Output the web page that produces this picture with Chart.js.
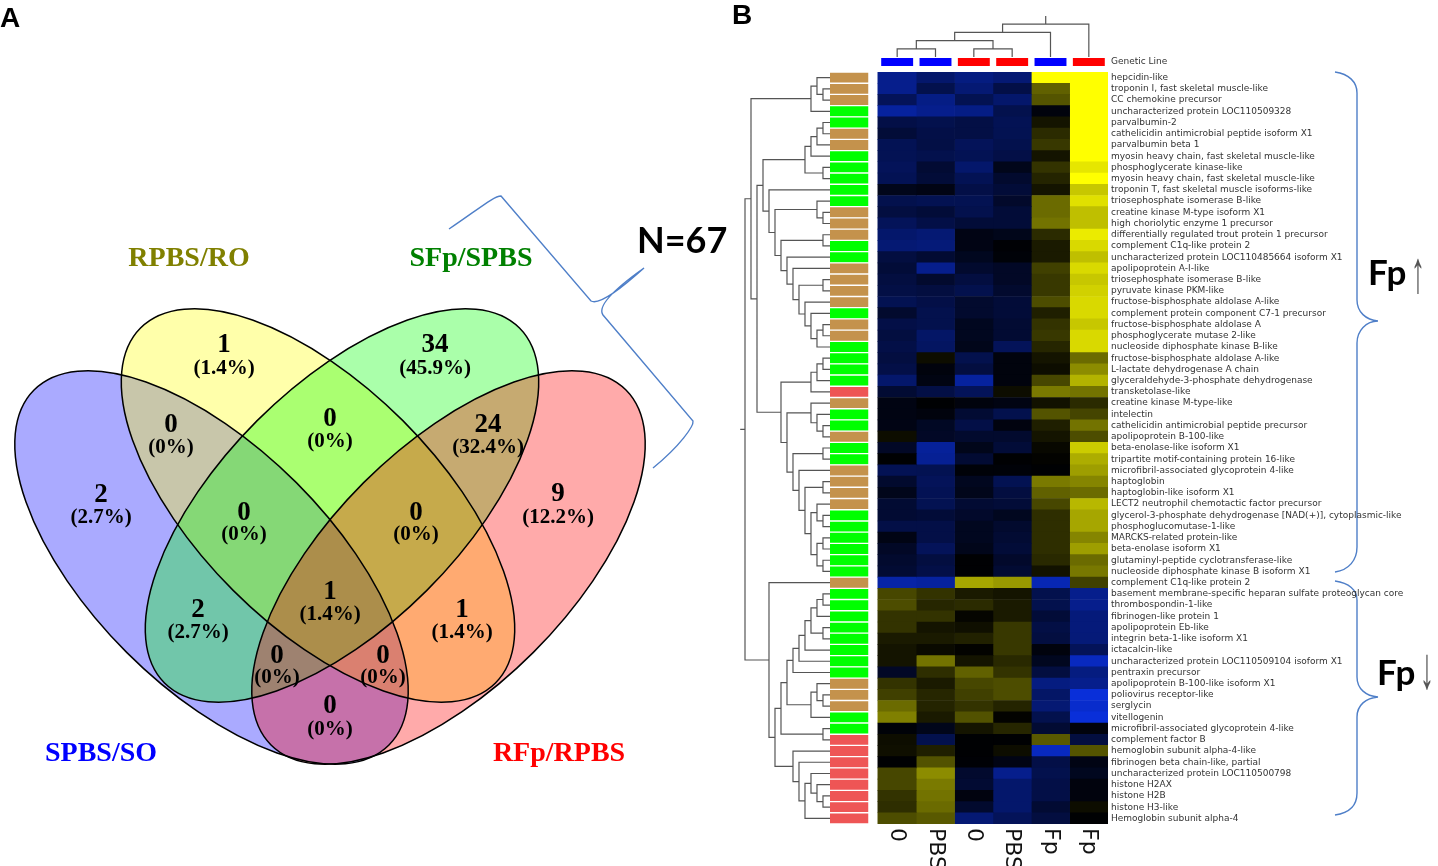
<!DOCTYPE html>
<html>
<head>
<meta charset="utf-8">
<style>
    body { margin: 0; background: #fff; overflow: hidden; }
    canvas { position: absolute; }
    #page { left: 0; top: 0; }
    #rowTree { left: 739px; top: 72px; }
    #colTree { left: 878px; top: 10px; }
    #lines { left: 878px; top: 54px; }
    #heat { left: 830px; top: 72px; }
</style>
<script src="https://cdn.jsdelivr.net/npm/chart.js@4/dist/chart.umd.js"></script>
</head>
<body>
<canvas id="page" width="1438" height="866"></canvas>
<canvas id="rowTree" width="91" height="752"></canvas>
<canvas id="colTree" width="230" height="47"></canvas>
<canvas id="lines" width="525" height="16"></canvas>
<canvas id="heat" width="573" height="794"></canvas>
<script>
// Panel A data
const vennSets = ['SPBS/SO', 'RPBS/RO', 'SFp/SPBS', 'RFp/RPBS'];
const vennRegions = ['b', 'y', 'g', 'r', 'by', 'yg', 'gr', 'byg', 'ygr', 'bygr', 'bg', 'yr', 'bgr', 'byr', 'br'];
const vennCounts = [2, 1, 34, 9, 0, 0, 24, 0, 0, 1, 2, 1, 0, 0, 0];
const vennPercents = ['2.7', '1.4', '45.9', '12.2', '0', '0', '32.4', '0', '0', '1.4', '2.7', '1.4', '0', '0', '0'];

// Panel B data
const columnLabels = ['0', 'PBS', '0', 'PBS', 'Fp', 'Fp'];
const geneticLine = ['S', 'S', 'R', 'R', 'S', 'R'];
const genes = [
    'hepcidin-like', 'troponin I, fast skeletal muscle-like', 'CC chemokine precursor',
    'uncharacterized protein LOC110509328', 'parvalbumin-2', 'cathelicidin antimicrobial peptide isoform X1',
    'parvalbumin beta 1', 'myosin heavy chain, fast skeletal muscle-like', 'phosphoglycerate kinase-like',
    'myosin heavy chain, fast skeletal muscle-like', 'troponin T, fast skeletal muscle isoforms-like',
    'triosephosphate isomerase B-like', 'creatine kinase M-type isoform X1', 'high choriolytic enzyme 1 precursor',
    'differentially regulated trout protein 1 precursor', 'complement C1q-like protein 2',
    'uncharacterized protein LOC110485664 isoform X1', 'apolipoprotein A-I-like', 'triosephosphate isomerase B-like',
    'pyruvate kinase PKM-like', 'fructose-bisphosphate aldolase A-like', 'complement protein component C7-1 precursor',
    'fructose-bisphosphate aldolase A', 'phosphoglycerate mutase 2-like', 'nucleoside diphosphate kinase B-like',
    'fructose-bisphosphate aldolase A-like', 'L-lactate dehydrogenase A chain', 'glyceraldehyde-3-phosphate dehydrogenase',
    'transketolase-like', 'creatine kinase M-type-like', 'intelectin', 'cathelicidin antimicrobial peptide precursor',
    'apolipoprotein B-100-like', 'beta-enolase-like isoform X1', 'tripartite motif-containing protein 16-like',
    'microfibril-associated glycoprotein 4-like', 'haptoglobin', 'haptoglobin-like isoform X1',
    'LECT2 neutrophil chemotactic factor precursor', 'glycerol-3-phosphate dehydrogenase [NAD(+)], cytoplasmic-like',
    'phosphoglucomutase-1-like', 'MARCKS-related protein-like', 'beta-enolase isoform X1',
    'glutaminyl-peptide cyclotransferase-like', 'nucleoside diphosphate kinase B isoform X1', 'complement C1q-like protein 2',
    'basement membrane-specific heparan sulfate proteoglycan core protein', 'thrombospondin-1-like', 'fibrinogen-like protein 1',
    'apolipoprotein Eb-like', 'integrin beta-1-like isoform X1', 'ictacalcin-like',
    'uncharacterized protein LOC110509104 isoform X1', 'pentraxin precursor', 'apolipoprotein B-100-like isoform X1',
    'poliovirus receptor-like', 'serglycin', 'vitellogenin', 'microfibril-associated glycoprotein 4-like',
    'complement factor B', 'hemoglobin subunit alpha-4-like', 'fibrinogen beta chain-like, partial',
    'uncharacterized protein LOC110500798', 'histone H2AX', 'histone H2B', 'histone H3-like', 'Hemoglobin subunit alpha-4'
];
const geneGroups = 'BBBGGBBGGGGGBB' + 'BGGBBBBGBBGGGGRBGGBG' + 'GBBBBGGGGGGBGGGGGGG' + 'GBBBGGRRRRRRRR';
const heatValues = [
    [-.55, -.42, -.5, -.45, 1, 1], [-.55, -.3, -.45, -.28, .38, 1], [-.35, -.52, -.32, -.42, .33, 1],
    [-.62, -.55, -.52, -.3, -.05, 1], [-.28, -.3, -.27, -.33, .08, 1], [-.22, -.28, -.27, -.32, .17, 1],
    [-.33, -.27, -.35, -.3, .22, 1], [-.33, -.3, -.33, -.28, .08, 1], [-.35, -.2, -.42, -.1, .2, .9],
    [-.33, -.22, -.33, -.18, .14, 1], [-.1, -.08, -.28, -.22, .08, .78], [-.3, -.32, -.32, -.17, .42, .88],
    [-.25, -.22, -.3, -.22, .42, .75], [-.35, -.28, -.22, -.22, .45, .75], [-.42, -.45, -.08, -.1, .17, .92],
    [-.45, -.47, -.08, -.02, .1, .85], [-.25, -.2, -.12, -.03, .1, .75], [-.22, -.55, -.18, -.15, .25, .85],
    [-.25, -.18, -.25, -.15, .22, .78], [-.27, -.25, -.3, -.18, .22, .82], [-.32, -.28, -.18, -.22, .3, .85],
    [-.18, -.3, -.18, -.22, .12, .85], [-.28, -.3, -.12, -.2, .2, .78], [-.25, -.4, -.12, -.2, .22, .85],
    [-.28, -.38, -.1, -.35, .15, .85], [-.25, .05, -.3, -.05, .08, .42], [-.28, -.05, -.25, -.05, .05, .55],
    [-.42, -.07, -.62, -.05, .28, .7], [-.2, -.27, -.35, .05, .48, .45], [-.07, -.01, -.05, -.07, .07, .17],
    [-.07, -.05, -.2, -.3, .33, .27], [-.08, -.14, -.28, -.06, .12, .45], [.05, -.15, -.18, -.18, .08, .3],
    [-.15, -.6, -.1, -.22, .03, .8], [-.01, -.58, -.2, -.01, .01, .68], [-.33, -.32, -.03, -.03, -.01, .62],
    [-.18, -.35, -.12, -.32, .48, .52], [-.1, -.33, -.1, -.25, .38, .42], [-.2, -.32, -.2, -.22, .28, .72],
    [-.2, -.22, -.17, -.12, .18, .65], [-.28, -.28, -.12, -.18, .18, .65], [-.08, -.28, -.12, -.2, .18, .52],
    [-.15, -.35, -.1, -.22, .18, .62], [-.18, -.25, -.01, -.17, .16, .42], [-.2, -.28, -.01, -.2, .07, .47],
    [-.65, -.62, .65, .6, -.7, .25], [.28, .2, .1, .08, -.3, -.55], [.3, .15, .17, .1, -.3, -.55],
    [.2, .2, .02, .1, -.22, -.48], [.2, .08, .06, .22, -.27, -.48], [.1, .1, .13, .22, -.25, -.47],
    [.08, .04, .01, .22, -.05, -.35], [.08, .45, .08, .16, -.12, -.75], [-.15, .18, .38, .2, -.25, -.5],
    [.2, .1, .28, .3, -.5, -.55], [.25, .15, .25, .3, -.4, -.85], [.42, .14, .2, .14, -.45, -.8],
    [.5, .1, .32, .01, -.3, -.85], [-.03, -.1, .08, .15, -.2, -.05], [.05, -.3, -.01, -.01, .35, -.25],
    [.06, .12, -.01, .05, -.75, .33], [-.01, .32, -.02, -.08, -.28, -.08], [.28, .55, -.18, -.55, -.3, -.12],
    [.28, .48, -.2, -.42, -.28, -.05], [.2, .45, -.06, -.42, -.28, -.05], [.18, .42, -.18, -.42, -.2, .05],
    [.3, .35, -.45, -.35, -.25, -.01]
];

// Dendrograms: [merge level, left, right], leaves are row or column numbers
const rowTreeData = [14,
    [13,
        [3, [2, 1, [1, 2, 3]], 4],
        [12,
            [11,
                [4, [3, [2, [1, 5, 6], 7], 8], [1, 9, 10]],
                [10, 11,
                    [9,
                        [2, 12, [1, 13, 14]],
                        [8, [1, 15, 16],
                            [7, 17,
                                [6, 18,
                                    [5, [1, 19, 20],
                                        [4, 21,
                                            [3, 22, [2, [1, 23, 24], 25]]]]]]]]]],
            [8,
                [3, [2, [1, 26, 27], 28], 29],
                [7,
                    [3, 30, [2, 31, [1, 32, 33]]],
                    [6, [1, 34, 35],
                        [5, 36,
                            [4, [1, 37, 38],
                                [3, [2, 39, [1, 40, 41]], [2, [1, 42, 43], [1, 44, 45]]]]]]]]]],
    [10, 46,
        [9,
            [8,
                [7,
                    [6, [5, [4, [3, [2, [1, 47, 48], 49], [1, 50, 51]], 52], 53], 54],
                    [3, [2, 55, [1, 56, 57]], 58]],
                [1, 59, 60]],
            [6, 61, [5, 62, [4, [3, 63, [2, 64, [1, 65, 66]]], 67]]]]]
];
const colTreeData = [4, [3, [2, [1, 0, 1], [1, 2, 3]], 4], 5];

// Layout of panel A, page pixels
const ellipses = {
    b: { x: 211.5, y: 567.5, rx: 251, ry: 120, rot: 45 },
    y: { x: 318, y: 505.5, rx: 251, ry: 120, rot: 45 },
    g: { x: 342, y: 505.5, rx: 251, ry: 120, rot: -45 },
    r: { x: 448.5, y: 567.5, rx: 251, ry: 120, rot: -45 }
};
const regionColors = {
    b: '#aaaaff', y: '#ffffaa', g: '#aaffaa', r: '#ffaaaa', by: '#c8c6aa', yg: '#aaff71', gr: '#c6aa71',
    byg: '#85d876', ygr: '#c6aa4b', bygr: '#ac8e4b', bg: '#71c6aa', yr: '#ffaa71', bgr: '#9e8270', byr: '#da8070', br: '#c671aa'
};
const labelSpots = [
    [101, 495, 518], [224, 345, 369], [435, 345, 369], [558, 494, 518], [171, 425, 448], [330, 419, 442], [488, 425, 448],
    [244, 513, 535], [416, 513, 535], [330, 592, 615], [198, 610, 633], [462, 610, 633], [277, 656, 678], [383, 656, 678], [330, 706, 730]
];
const setTitles = [[101, 754, '#0000ff'], [189, 259, '#808000'], [471, 259, '#008000'], [559, 754, '#ff0000']];
const braces = [
    [[449, 229], [480, 208, 494, 196, 501, 196], [591, 301], [600, 306, 625, 285, 644, 268], [620, 285, 596, 305, 603, 315], [693, 421], [694, 426, 680, 446, 653, 468]],
    [[1335, 72], [1349, 74, 1357, 82, 1357, 93], [1357, 300], [1357, 312, 1366, 320, 1378, 321], [1366, 321, 1357, 331, 1357, 343], [1357, 547], [1357, 560, 1349, 570, 1335, 572]],
    [[1335, 581], [1349, 583, 1357, 590, 1357, 600], [1357, 677], [1357, 689, 1366, 696, 1378, 697], [1366, 698, 1357, 705, 1357, 717], [1357, 793], [1357, 806, 1349, 813, 1335, 815]]
];

const groupColors = { B: '#c4924c', G: '#00ff00', R: '#ee5555' };
const lineColors = { S: '#0000ff', R: '#ff0000' };

function heatColor(v) {
    const a = Math.abs(v);
    if (v >= 0) return `rgb(${Math.round(255 * a)},${Math.round(255 * a)},0)`;
    return `rgb(${Math.round(10 * a)},${Math.round(55 * a)},${Math.round(255 * a)})`;
}

// Tick labels would otherwise push the chart area in by half a line
function fitRightAxis(axis) {
    axis.width = 295;
    axis.paddingTop = 0;
    axis.paddingBottom = 0;
}

// Page chart: venn diagram and the annotations around it
const pagePlugin = {
    id: 'pagePlugin',
    afterDraw(chart) {
        const ctx = chart.ctx;
        const px = v => chart.scales.x.getPixelForValue(v);
        const py = v => chart.scales.y.getPixelForValue(v);
        const paths = {};
        Object.keys(ellipses).forEach(k => {
            const e = ellipses[k];
            const p = new Path2D();
            p.ellipse(px(e.x), py(e.y), e.rx, e.ry, e.rot * Math.PI / 180, 0, Math.PI * 2);
            paths[k] = p;
        });

        vennRegions.forEach(region => {
            ctx.save();
            Object.keys(paths).forEach(k => {
                if (region.includes(k)) {
                    ctx.clip(paths[k]);
                } else {
                    const outside = new Path2D();
                    outside.rect(0, 0, chart.width, chart.height);
                    outside.addPath(paths[k]);
                    ctx.clip(outside, 'evenodd');
                }
            });
            ctx.fillStyle = regionColors[region];
            ctx.fillRect(0, 0, chart.width, chart.height);
            ctx.restore();
        });
        ctx.strokeStyle = '#000';
        ctx.lineWidth = 1.5;
        Object.values(paths).forEach(p => ctx.stroke(p));

        ctx.textAlign = 'center';
        ctx.textBaseline = 'middle';
        ctx.fillStyle = '#000';
        vennCounts.forEach((count, i) => {
            const spot = labelSpots[i];
            ctx.font = 'bold 27px "Liberation Serif"';
            ctx.fillText(count, px(spot[0]), py(spot[1]));
            ctx.font = 'bold 21px "Liberation Serif"';
            ctx.fillText(`(${vennPercents[i]}%)`, px(spot[0]), py(spot[2]));
        });
        vennSets.forEach((name, i) => {
            ctx.font = 'bold 28px "Liberation Serif"';
            ctx.fillStyle = setTitles[i][2];
            ctx.fillText(name, px(setTitles[i][0]), py(setTitles[i][1]));
        });

        // braces
        ctx.strokeStyle = '#4f7fc8';
        ctx.lineWidth = 1.4;
        braces.forEach(b => {
            ctx.beginPath();
            b.forEach((s, i) => {
                if (i === 0) ctx.moveTo(px(s[0]), py(s[1]));
                else if (s.length === 2) ctx.lineTo(px(s[0]), py(s[1]));
                else ctx.bezierCurveTo(px(s[0]), py(s[1]), px(s[2]), py(s[3]), px(s[4]), py(s[5]));
            });
            ctx.stroke();
        });

        ctx.textBaseline = 'alphabetic';
        ctx.textAlign = 'left';
        ctx.fillStyle = '#000';
        ctx.font = 'bold 28px "Liberation Sans"';
        ctx.fillText('A', px(0), py(27));
        ctx.fillText('B', px(732), py(24));
        ctx.font = 'bold 36px Lato';
        ctx.fillText('N=67', px(637), py(253));
        ctx.font = 'bold 35px Lato';
        ctx.fillText('Fp', px(1368), py(285));
        ctx.fillText('Fp', px(1377), py(685));

        // arrows after Fp, stretched to the height they have in the figure
        ctx.font = '36px "Liberation Sans"';
        ctx.fillStyle = '#555';
        ctx.textAlign = 'center';
        [['↑', 1418, 292], ['↓', 1427, 688]].forEach(a => {
            ctx.save();
            ctx.translate(px(a[1]), py(a[2]));
            ctx.scale(0.8, 1.65);
            ctx.fillText(a[0], 0, 0);
            ctx.restore();
        });
    }
};

new Chart(document.getElementById('page'), {
    type: 'scatter',
    data: { datasets: [{ data: [] }] },
    options: {
        responsive: false,
        animation: false,
        plugins: { legend: { display: false }, tooltip: { enabled: false } },
        scales: {
            x: { type: 'linear', min: 0, max: 1438, display: false },
            y: { type: 'linear', min: 0, max: 866, reverse: true, display: false }
        }
    },
    plugins: [pagePlugin]
});

// Walks a dendrogram and returns its bracket lines as one broken line
function treeSegments(tree, toPoint, leafPos, leafLevel) {
    const points = [];
    const walk = node => {
        if (!Array.isArray(node)) return { pos: leafPos(node), level: leafLevel };
        const a = walk(node[1]);
        const b = walk(node[2]);
        points.push(toPoint(a.level, a.pos), toPoint(node[0], a.pos), toPoint(node[0], b.pos), toPoint(b.level, b.pos), { x: null, y: null });
        return { pos: (a.pos + b.pos) / 2, level: node[0] };
    };
    const root = walk(tree);
    return { points, root };
}

const treeLine = { showLine: true, pointRadius: 0, borderColor: '#555', borderWidth: 1.2, spanGaps: false };

// Row dendrogram
const rowSeg = treeSegments(rowTreeData, (level, pos) => ({ x: level, y: pos }), n => n, -0.17);
rowSeg.points.push({ x: 14, y: rowSeg.root.pos }, { x: 14.8, y: rowSeg.root.pos });
new Chart(document.getElementById('rowTree'), {
    type: 'scatter',
    data: { datasets: [{ ...treeLine, data: rowSeg.points }] },
    options: {
        responsive: false,
        animation: false,
        plugins: { legend: { display: false }, tooltip: { enabled: false } },
        scales: {
            x: { type: 'linear', min: -0.17, max: 15, reverse: true, display: false },
            y: { type: 'linear', min: 0.5, max: 67.5, reverse: true, display: false }
        }
    }
});

// Column dendrogram
const colSeg = treeSegments(colTreeData, (level, pos) => ({ x: pos, y: level }), n => n + 0.5, 0);
colSeg.points.push({ x: colSeg.root.pos, y: 4 }, { x: colSeg.root.pos, y: 5 });
new Chart(document.getElementById('colTree'), {
    type: 'scatter',
    data: { datasets: [{ ...treeLine, data: colSeg.points }] },
    options: {
        responsive: false,
        animation: false,
        plugins: { legend: { display: false }, tooltip: { enabled: false } },
        scales: {
            x: { type: 'linear', min: 0, max: 6, display: false },
            y: { type: 'linear', min: 0, max: 5.73, display: false }
        }
    }
});

// Genetic line strip above the heatmap
new Chart(document.getElementById('lines'), {
    type: 'bar',
    data: {
        labels: columnLabels,
        datasets: [{
            data: geneticLine.map(() => 1),
            backgroundColor: geneticLine.map(g => lineColors[g]),
            barPercentage: 0.833,
            categoryPercentage: 1
        }]
    },
    options: {
        responsive: false,
        animation: false,
        layout: { padding: { top: 4, bottom: 4 } },
        plugins: { legend: { display: false }, tooltip: { enabled: false } },
        scales: {
            x: { display: false },
            y: {
                position: 'right',
                min: 0,
                max: 1,
                grid: { display: false, drawTicks: false },
                border: { display: false },
                afterFit: fitRightAxis,
                afterBuildTicks: axis => { axis.ticks = [{ value: 0.5 }]; },
                ticks: {
                    padding: 3,
                    color: '#333',
                    font: { family: 'DejaVu Sans', size: 9 },
                    callback: () => 'Genetic Line'
                }
            }
        }
    }
});

// Heatmap: stacked horizontal bars, group strip, a gap, then six columns
const columnGap = 0.2475;
const heatDatasets = [
    {
        data: genes.map(() => 1),
        backgroundColor: genes.map((g, i) => groupColors[geneGroups[i]]),
        borderColor: '#fff',
        borderWidth: { top: 1, bottom: 1, left: 0, right: 0 },
        barPercentage: 1,
        categoryPercentage: 1
    },
    {
        data: genes.map(() => columnGap),
        backgroundColor: 'rgba(0,0,0,0)',
        barPercentage: 1,
        categoryPercentage: 1
    }
];
columnLabels.forEach((label, c) => {
    heatDatasets.push({
        label: label,
        data: genes.map(() => 1),
        backgroundColor: heatValues.map(row => heatColor(row[c])),
        barPercentage: 1,
        categoryPercentage: 1
    });
});

const columnLabelPlugin = {
    id: 'columnLabelPlugin',
    afterDraw(chart) {
        const ctx = chart.ctx;
        const x = chart.scales.x;
        ctx.save();
        ctx.font = '22px "DejaVu Sans"';
        ctx.fillStyle = '#111';
        ctx.textAlign = 'left';
        ctx.textBaseline = 'middle';
        columnLabels.forEach((label, c) => {
            ctx.save();
            ctx.translate(x.getPixelForValue(1 + columnGap + c + 0.5), chart.chartArea.bottom + 4);
            ctx.rotate(Math.PI / 2);
            ctx.fillText(label, 0, 0);
            ctx.restore();
        });
        ctx.restore();
    }
};

new Chart(document.getElementById('heat'), {
    type: 'bar',
    data: { labels: genes, datasets: heatDatasets },
    options: {
        indexAxis: 'y',
        responsive: false,
        animation: false,
        layout: { padding: { bottom: 42 } },
        plugins: { legend: { display: false }, tooltip: { enabled: false } },
        scales: {
            x: { stacked: true, min: 0, max: 1 + columnGap + 6, display: false },
            y: {
                stacked: true,
                position: 'right',
                grid: { display: false, drawTicks: false },
                border: { display: false },
                afterFit: fitRightAxis,
                ticks: {
                    autoSkip: false,
                    padding: 3,
                    color: '#333',
                    font: { family: 'DejaVu Sans', size: 9 }
                }
            }
        }
    },
    plugins: [columnLabelPlugin]
});
</script>
</body>
</html>
